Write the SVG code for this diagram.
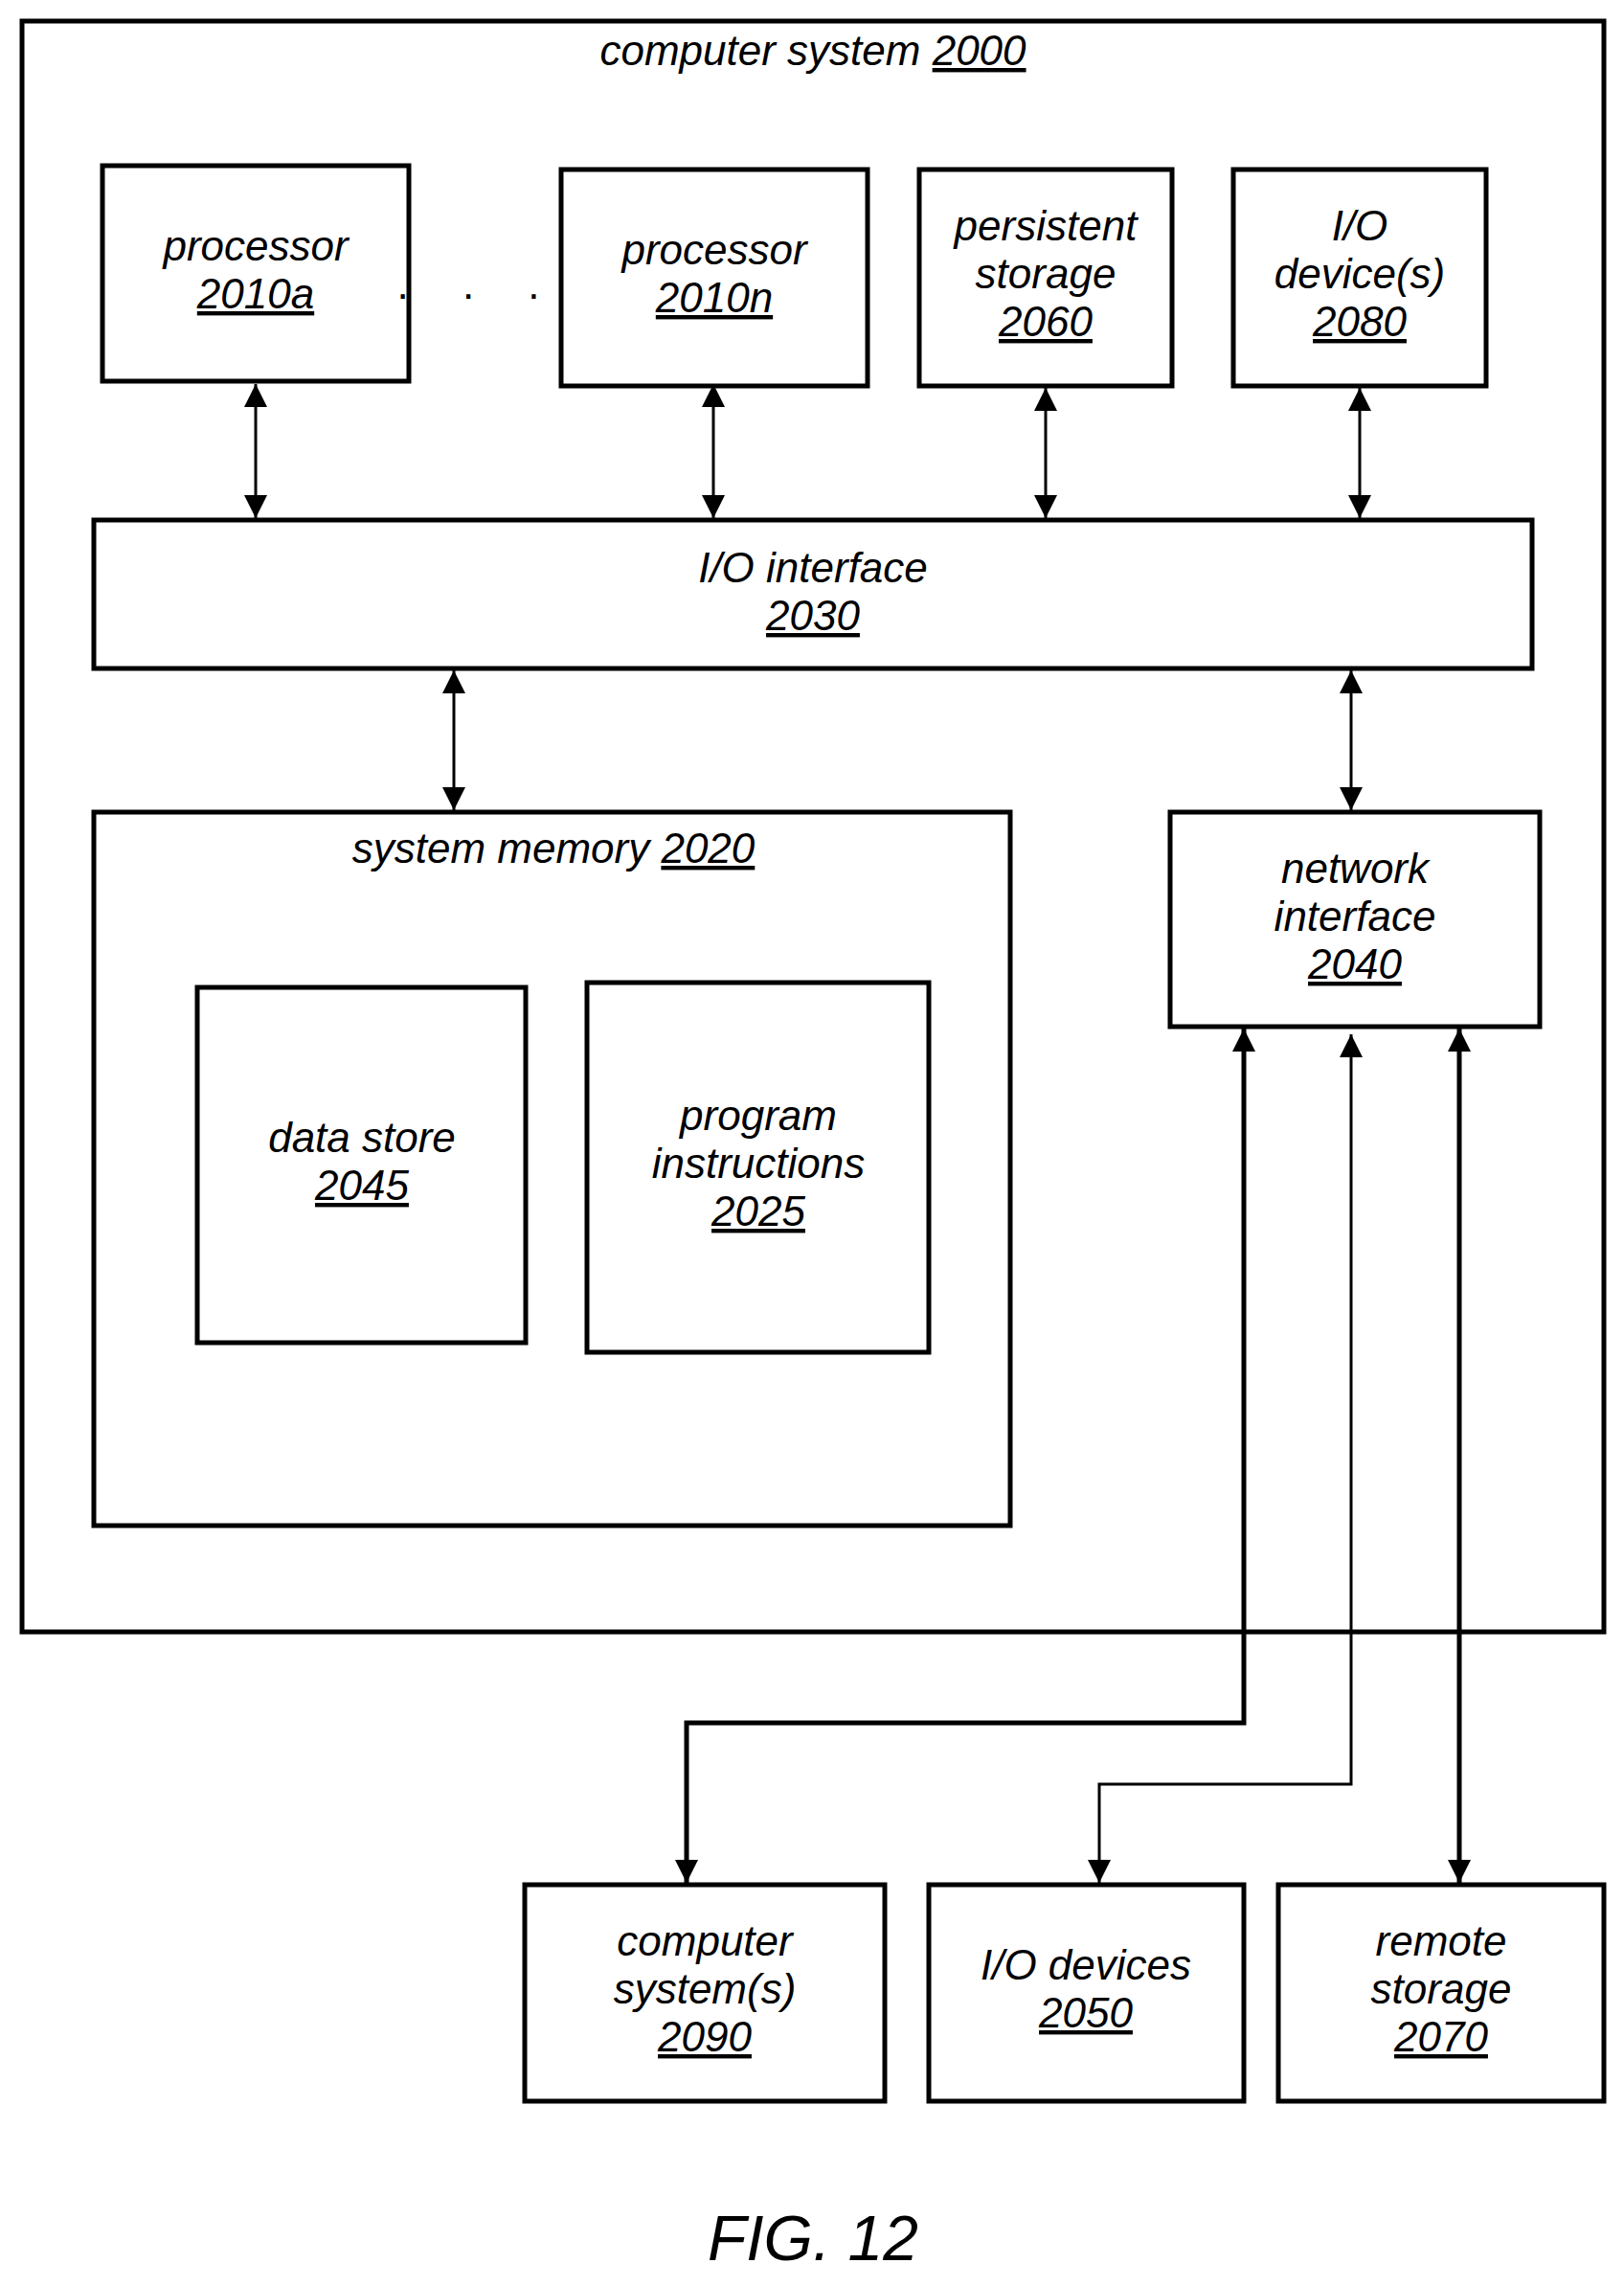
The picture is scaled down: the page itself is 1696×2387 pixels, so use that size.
<svg xmlns="http://www.w3.org/2000/svg" width="1696" height="2387" viewBox="0 0 1696 2387">
<style>
rect{fill:none;stroke:#000;stroke-width:5}
text{font-family:"Liberation Sans",Arial,sans-serif;font-style:italic;font-size:44px;text-anchor:middle}
.u{text-decoration:underline}
.c{stroke:#000;stroke-width:3;fill:none}
.t{stroke:#000;stroke-width:5;fill:none}
</style>
<defs>
<marker id="a" viewBox="0 0 10 10" refX="10" refY="5" markerWidth="8" markerHeight="10" markerUnits="userSpaceOnUse" orient="auto-start-reverse" style="overflow:visible"><path d="M0,0L10,5L0,10z" transform="scale(1)"/></marker>
<marker id="b" viewBox="0 0 10 10" refX="10" refY="5" markerWidth="26" markerHeight="24" markerUnits="userSpaceOnUse" orient="auto-start-reverse"><path d="M0,0L10,5L0,10z"/></marker>
</defs>
<g id="computer-system-2000"><rect x="23" y="22" width="1652" height="1682"/><text x="849" y="68">computer system  <tspan class="u">2000</tspan></text></g>
<g id="processor-2010a"><rect x="107" y="173" width="320" height="225"/><text x="267" y="272">processor</text><text x="267" y="322" class="u">2010a</text></g>
<text x="500" y="312" style="font-style:normal;letter-spacing:22px">. . .</text>
<g id="processor-2010n"><rect x="586" y="177" width="320" height="226"/><text x="746" y="276">processor</text><text x="746" y="326" class="u">2010n</text></g>
<g id="persistent-storage-2060"><rect x="960" y="177" width="264" height="226"/><text x="1092" y="251">persistent</text><text x="1092" y="301">storage</text><text x="1092" y="351" class="u">2060</text></g>
<g id="io-devices-2080"><rect x="1288" y="177" width="264" height="226"/><text x="1420" y="251">I/O</text><text x="1420" y="301">device(s)</text><text x="1420" y="351" class="u">2080</text></g>
<g id="io-interface-2030"><rect x="98" y="543" width="1502" height="155"/><text x="849" y="608">I/O interface</text><text x="849" y="658" class="u">2030</text></g>
<g id="system-memory-2020"><rect x="98" y="848" width="957" height="745"/><text x="578" y="901">system memory  <tspan class="u">2020</tspan></text></g>
<g id="data-store-2045"><rect x="206" y="1031" width="343" height="371"/><text x="378" y="1203">data store</text><text x="378" y="1253" class="u">2045</text></g>
<g id="program-instructions-2025"><rect x="613" y="1026" width="357" height="386"/><text x="792" y="1180">program</text><text x="792" y="1230">instructions</text><text x="792" y="1280" class="u">2025</text></g>
<g id="network-interface-2040"><rect x="1222" y="848" width="386" height="224"/><text x="1415" y="922">network</text><text x="1415" y="972">interface</text><text x="1415" y="1022" class="u">2040</text></g>
<g id="computer-systems-2090"><rect x="548" y="1968" width="376" height="226"/><text x="736" y="2042">computer</text><text x="736" y="2092">system(s)</text><text x="736" y="2142" class="u">2090</text></g>
<g id="io-devices-2050"><rect x="970" y="1968" width="329" height="226"/><text x="1134" y="2067">I/O devices</text><text x="1134" y="2117" class="u">2050</text></g>
<g id="remote-storage-2070"><rect x="1335" y="1968" width="340" height="226"/><text x="1505" y="2042">remote</text><text x="1505" y="2092">storage</text><text x="1505" y="2142" class="u">2070</text></g>
<g id="connectors">
<line class="c" x1="267" y1="401" x2="267" y2="541" marker-start="url(#b)" marker-end="url(#b)"/>
<line class="c" x1="745" y1="401" x2="745" y2="541" marker-start="url(#b)" marker-end="url(#b)"/>
<line class="c" x1="1092" y1="405" x2="1092" y2="541" marker-start="url(#b)" marker-end="url(#b)"/>
<line class="c" x1="1420" y1="405" x2="1420" y2="541" marker-start="url(#b)" marker-end="url(#b)"/>
<line class="c" x1="474" y1="700" x2="474" y2="846" marker-start="url(#b)" marker-end="url(#b)"/>
<line class="c" x1="1411" y1="700" x2="1411" y2="846" marker-start="url(#b)" marker-end="url(#b)"/>
<path class="t" d="M1299,1074V1799H717V1966" marker-start="url(#b)" marker-end="url(#b)"/>
<path class="c" d="M1411,1080V1863H1148V1966" marker-start="url(#b)" marker-end="url(#b)"/>
<line class="t" x1="1524" y1="1074" x2="1524" y2="1966" marker-start="url(#b)" marker-end="url(#b)"/>
</g>
<text x="849" y="2360" style="font-size:66px">FIG. 12</text>
</svg>
